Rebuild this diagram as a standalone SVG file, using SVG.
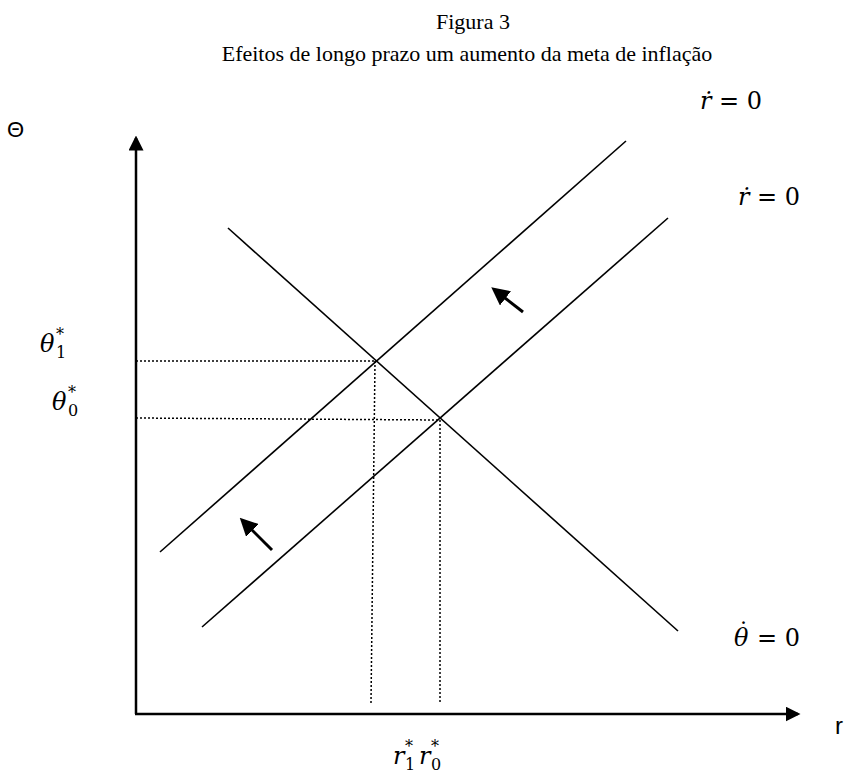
<svg xmlns="http://www.w3.org/2000/svg" width="848" height="777" viewBox="0 0 848 777">
<style>
.title{font-family:"Liberation Serif","Times New Roman",serif;font-size:22px;fill:#000}
.math{font-family:"DejaVu Serif","Liberation Serif",serif;font-size:24px;fill:#000}
.it{font-style:italic}
.sub{font-size:16px}
.sans{font-family:"Liberation Sans",Arial,sans-serif;fill:#000}
.curve{stroke:#000;stroke-width:1.6;fill:none}
.axis{stroke:#000;stroke-width:2.5;fill:none}
.dot{stroke:#000;stroke-width:1.5;stroke-dasharray:2 2;fill:none}
.move{stroke:#000;stroke-width:3;fill:none}
</style>
<defs>
<marker id="ah" markerWidth="6" markerHeight="6" refX="5" refY="3" orient="auto" markerUnits="strokeWidth"><path d="M0,0 L6,3 L0,6 Z" fill="#000"/></marker>
<marker id="am" markerWidth="6" markerHeight="6" refX="4" refY="3" orient="auto" markerUnits="strokeWidth"><path d="M0,0 L6,3 L0,6 Z" fill="#000"/></marker>
</defs>
<rect width="848" height="777" fill="#fff"/>
<g id="title">
<text class="title" x="473" y="29" text-anchor="middle">Figura 3</text>
<text class="title" x="467" y="61" text-anchor="middle">Efeitos de longo prazo um aumento da meta de inflação</text>
</g>
<g id="connectors">
<line id="y-axis" class="axis" x1="136" y1="714" x2="136" y2="138" marker-end="url(#ah)"/>
<line id="x-axis" class="axis" x1="135" y1="714" x2="798" y2="714" marker-end="url(#ah)"/>
<line id="theta-dot-line" class="curve" x1="228" y1="228" x2="678" y2="631"/>
<line id="r-dot-upper" class="curve" x1="160" y1="552" x2="626" y2="141"/>
<line id="r-dot-lower" class="curve" x1="202" y1="627" x2="668" y2="218"/>
<line class="dot" x1="136" y1="361" x2="375" y2="361"/>
<line class="dot" x1="136" y1="418" x2="440" y2="420"/>
<line class="dot" x1="375" y1="361" x2="371" y2="703"/>
<line class="dot" x1="440" y1="420" x2="440" y2="703"/>
<line class="move" x1="523" y1="312" x2="496" y2="291" marker-end="url(#am)"/>
<line class="move" x1="272" y1="550" x2="244" y2="522" marker-end="url(#am)"/>
</g>
<g id="labels">
<text class="sans" x="7" y="137" font-size="22">Θ</text>
<text class="sans" x="835" y="734" font-size="24">r</text>
<text class="math" x="700" y="109"><tspan class="it">ṙ</tspan> = 0</text>
<text class="math" x="738" y="205"><tspan class="it">ṙ</tspan> = 0</text>
<text class="math" x="734" y="646"><tspan class="it">θ</tspan><tspan dx="-11" dy="-6">˙</tspan><tspan dy="6"> = 0</tspan></text>
<text class="math"><tspan class="it" x="40" y="352">θ</tspan><tspan class="sub" x="56" y="340">*</tspan><tspan class="sub" x="56" y="358">1</tspan></text>
<text class="math"><tspan class="it" x="52" y="410">θ</tspan><tspan class="sub" x="68" y="398">*</tspan><tspan class="sub" x="68" y="416">0</tspan></text>
<text class="math" font-size="26"><tspan class="it" x="393" y="764">r</tspan><tspan class="sub" x="405" y="752">*</tspan><tspan class="sub" x="405" y="770">1</tspan><tspan class="it" x="419" y="764">r</tspan><tspan class="sub" x="431" y="752">*</tspan><tspan class="sub" x="431" y="770">0</tspan></text>
</g>
</svg>
